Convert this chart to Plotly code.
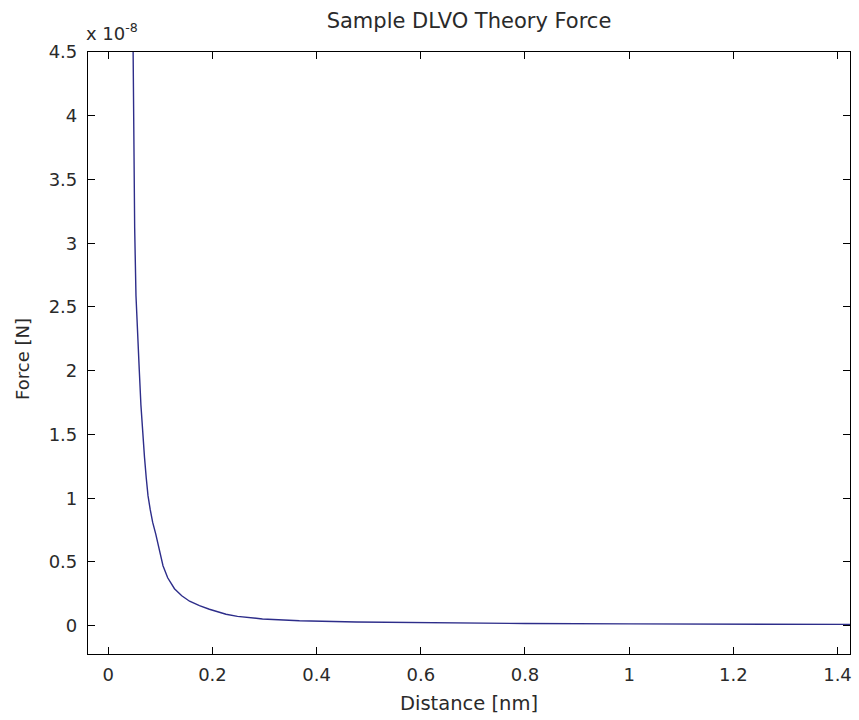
import plotly.graph_objects as go

# Distance [nm] and force [x 1e-8 N]
distance_nm = [0.0470, 0.0475, 0.0485, 0.0506, 0.0531, 0.0561, 0.0594, 0.0626, 0.0661,
               0.0695, 0.0728, 0.0762, 0.0805, 0.0852, 0.0910, 0.0987, 0.105, 0.114,
               0.127, 0.141, 0.156, 0.175, 0.194, 0.226, 0.248, 0.296, 0.367, 0.476,
               0.635, 0.80, 1.00, 1.20, 1.43]
force_e8 = [4.80, 4.50, 3.65, 3.12, 2.59, 2.24, 2.01, 1.73, 1.50,
            1.32, 1.16, 1.02, 0.91, 0.81, 0.72, 0.59, 0.47, 0.376,
            0.290, 0.235, 0.192, 0.157, 0.129, 0.090, 0.073, 0.053, 0.039, 0.029,
            0.021, 0.017, 0.014, 0.012, 0.010]

x_ticks = [0, 0.2, 0.4, 0.6, 0.8, 1, 1.2, 1.4]
y_ticks = [0, 0.5, 1, 1.5, 2, 2.5, 3, 3.5, 4, 4.5]

font_family = "DejaVu Sans, Verdana, sans-serif"
text_color = "#2a2a2a"

fig = go.Figure()
fig.add_trace(go.Scatter(
    x=distance_nm, y=force_e8, mode="lines",
    line=dict(color="#2d2d8a", width=1.4),
    showlegend=False, hoverinfo="x+y",
))

axis_common = dict(
    showline=True, linecolor="black", linewidth=1.2, mirror="ticks",
    ticks="inside", ticklen=7, tickwidth=1.2, tickcolor="black",
    showgrid=False, zeroline=False,
    tickfont=dict(family=font_family, size=18, color=text_color),
)

fig.update_xaxes(
    range=[-0.039, 1.424], tickvals=x_ticks,
    ticktext=[f"{v:g}" for v in x_ticks],
    ticklabelstandoff=4,
    **axis_common,
)
fig.update_yaxes(
    range=[-0.222, 4.5], tickvals=y_ticks,
    ticktext=[f"{v:g}" for v in y_ticks],
    ticklabelstandoff=6,
    **axis_common,
)

# axis titles placed as annotations for precise positioning
fig.add_annotation(
    text="Distance [nm]", xref="paper", yref="paper", x=0.5, y=0,
    xanchor="center", yanchor="middle", yshift=-49, showarrow=False,
    font=dict(family=font_family, size=19.5, color=text_color),
)
fig.add_annotation(
    text="Force [N]", xref="paper", yref="paper", x=0, y=0.5,
    xanchor="center", yanchor="middle", xshift=-66, yshift=-6, textangle=-90,
    showarrow=False,
    font=dict(family=font_family, size=18, color=text_color),
)
fig.add_annotation(
    text="x 10<sup>-8</sup>", xref="paper", yref="paper", x=0, y=1,
    xanchor="left", yanchor="bottom", yshift=6, xshift=-4, showarrow=False,
    font=dict(family=font_family, size=18, color=text_color),
)

fig.update_layout(
    width=859, height=720,
    margin=dict(l=88, r=7, t=52, b=66),
    paper_bgcolor="white", plot_bgcolor="white",
    title=dict(text="Sample DLVO Theory Force", x=0.5, xanchor="center",
               xref="paper", yref="container", y=1 - 21 / 720, yanchor="middle",
               font=dict(family=font_family, size=21, color=text_color)),
)

fig.write_html("out.html", config={"displayModeBar": False},
               post_script="document.body.style.margin='0';")
